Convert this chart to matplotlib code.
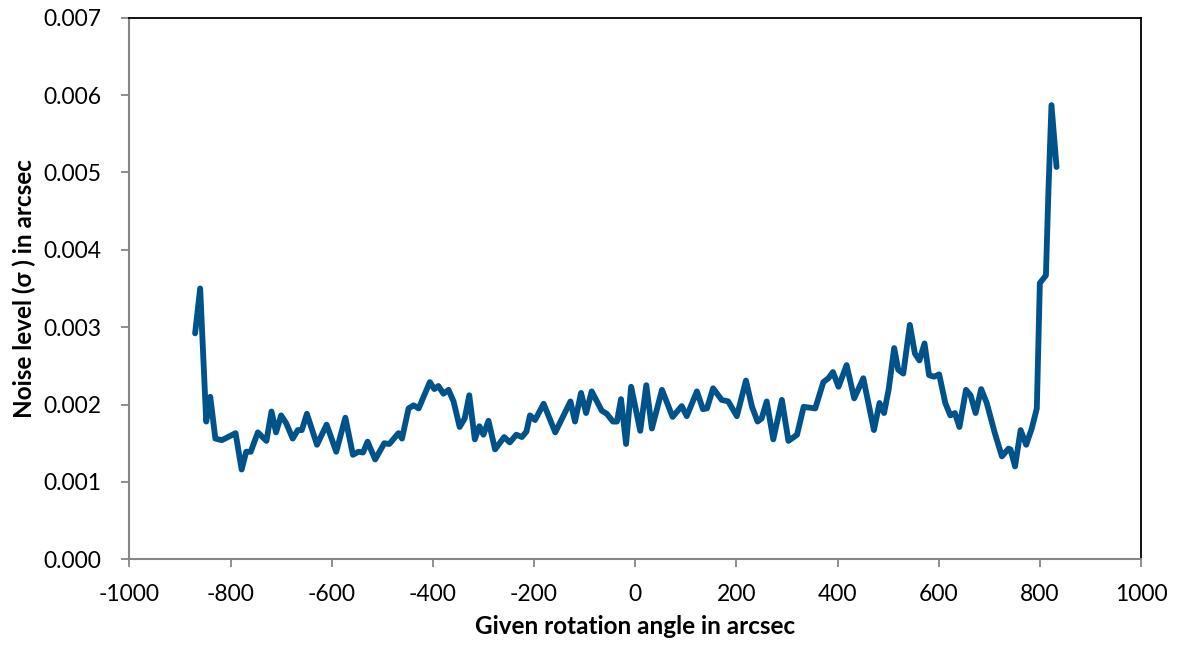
import numpy as np
import matplotlib
matplotlib.use('Agg')
import matplotlib.pyplot as plt

# rotation angle (arcsec) and noise level (arcsec)
angle = [-870, -860, -848, -840, -830, -817, -790, -778, -769, -760, -746, -729,
         -719, -710, -700, -690, -677, -667, -659, -649, -629, -610, -591, -573,
         -558, -547, -538, -529, -514, -496, -486, -468, -461, -448, -438, -428,
         -406, -397, -389, -379, -369, -359, -347, -337, -328, -317, -308, -300,
         -290, -277, -259, -248, -235, -224, -215, -208, -198, -181, -158, -128,
         -119, -107, -97, -86, -66, -56, -44, -36, -28, -18, -8, 10, 22, 33, 53,
         74, 92, 102, 122, 134, 142, 154, 171, 184, 201, 219, 231, 242, 250, 260,
         273, 290, 303, 320, 333, 356, 372, 382, 391, 402, 418, 433, 451, 472,
         483, 492, 501, 512, 520, 530, 543, 553, 562, 572, 581, 591, 601, 613,
         623, 632, 641, 654, 663, 673, 684, 695, 711, 725, 738, 742, 751, 762,
         773, 784, 794, 800, 812, 817, 823, 833]
noise = [2.92, 3.50, 1.78, 2.10, 1.56, 1.54, 1.63, 1.16, 1.39, 1.39, 1.64, 1.53,
         1.91, 1.64, 1.86, 1.76, 1.56, 1.67, 1.67, 1.88, 1.48, 1.74, 1.39, 1.83,
         1.35, 1.39, 1.38, 1.52, 1.29, 1.50, 1.49, 1.63, 1.56, 1.95, 1.99, 1.95,
         2.29, 2.20, 2.24, 2.14, 2.19, 2.04, 1.71, 1.82, 2.12, 1.55, 1.72, 1.61,
         1.79, 1.42, 1.58, 1.51, 1.61, 1.58, 1.65, 1.86, 1.80, 2.01, 1.64, 2.04,
         1.78, 2.15, 1.89, 2.17, 1.92, 1.88, 1.78, 1.78, 2.07, 1.49, 2.23, 1.66,
         2.25, 1.69, 2.19, 1.84, 1.98, 1.85, 2.17, 1.94, 1.95, 2.21, 2.06, 2.04,
         1.85, 2.31, 1.97, 1.78, 1.82, 2.04, 1.55, 2.06, 1.53, 1.61, 1.97, 1.95,
         2.29, 2.34, 2.42, 2.23, 2.51, 2.08, 2.34, 1.67, 2.02, 1.89, 2.19, 2.73,
         2.45, 2.40, 3.03, 2.66, 2.57, 2.79, 2.38, 2.36, 2.39, 2.02, 1.86, 1.89,
         1.71, 2.19, 2.12, 1.89, 2.20, 2.02, 1.63, 1.33, 1.43, 1.42, 1.20, 1.67,
         1.48, 1.69, 1.95, 3.57, 3.67, 4.77, 5.87, 5.07]
noise = np.array(noise) / 1000.0

xticks = [-1000, -800, -600, -400, -200, 0, 200, 400, 600, 800, 1000]
yticks = [0.000, 0.001, 0.002, 0.003, 0.004, 0.005, 0.006, 0.007]

plt.rcParams['font.family'] = ['Lato', 'DejaVu Sans']
plt.rcParams['axes.unicode_minus'] = False

fig = plt.figure(figsize=(11.78, 6.48), dpi=100)
ax = fig.add_axes([0.1098, 0.1369, 0.8588, 0.8358])

ax.plot(angle, noise, color='#00538A', linewidth=4.2,
        solid_joinstyle='round', solid_capstyle='round')

ax.set_xlim(-1000, 1000)
ax.set_ylim(0, 0.007)
ax.set_xticks(xticks)
ax.set_yticks(yticks)
ax.set_xticklabels([str(v) for v in xticks])
ax.set_yticklabels(['%.3f' % v for v in yticks])

for side in ['left', 'bottom']:
    ax.spines[side].set_color('#868686')
    ax.spines[side].set_linewidth(1.5)
for side in ['top', 'right']:
    ax.spines[side].set_color('black')
    ax.spines[side].set_linewidth(1.3)

ax.tick_params(axis='both', direction='out', length=6, width=1.3,
               color='#868686', labelsize=16.5)
ax.tick_params(axis='x', pad=12)
ax.tick_params(axis='y', pad=14)

ax.set_xlabel('Given rotation angle in arcsec', fontsize=17.5, fontweight='bold', labelpad=7)
ax.set_ylabel('Noise level (σ ) in arcsec', fontsize=17.5, fontweight='bold', labelpad=5)

fig.savefig('out.png', dpi=100)
